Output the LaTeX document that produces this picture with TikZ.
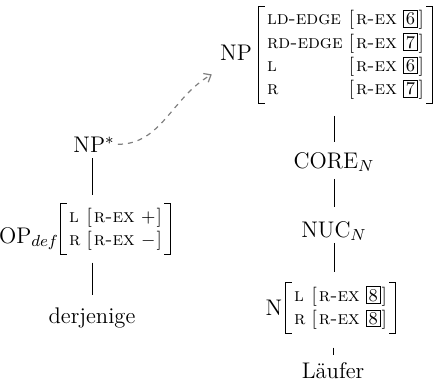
\documentclass[tikz,border=0pt]{standalone}
\usepackage{fontspec}
\usetikzlibrary{arrows.meta}
\newcommand\tagbox[1]{{\setlength\fboxsep{0.9pt}\setlength\fboxrule{0.4pt}\fbox{\fontsize{9}{9}\selectfont #1}}}
\newcommand\rexval[1]{[\kern1pt\textsc{r-ex}\ #1\kern0.5pt]}
\newcommand\avmfont{\fontsize{9.5}{11.6}\selectfont}
\newcommand\labfont{\fontsize{11.3}{13}\selectfont}
\newcommand\avmbr[1]{%
  \draw[brk] ([xshift=3pt]#1.north west) -- (#1.north west) -- (#1.south west) -- ([xshift=3pt]#1.south west);
  \draw[brk] ([xshift=-3pt]#1.north east) -- (#1.north east) -- (#1.south east) -- ([xshift=-3pt]#1.south east);}
\tikzset{
  lab/.style={inner sep=0pt, font=\labfont, anchor=base},
  avm/.style={inner xsep=4pt, inner ysep=1pt, font=\avmfont},
  brk/.style={line width=0.55pt},
  tree/.style={line width=0.5pt},
  link/.style={gray, dash pattern=on 2.5pt off 2.5pt, line width=0.6pt,
    -{Straight Barb[length=3pt,width=5pt]}}
}
\begin{document}
\begin{tikzpicture}[x=0.5pt,y=-0.5pt]
\path[use as bounding box] (0,0) rectangle (440,386);
% right tree
\node[lab] (nplab) at (236,60) {NP};
\node[avm] (npavm) at (345.5,55) {\begin{tabular}{@{}l@{\hspace{3pt}}l@{}}
\textsc{ld-edge} & \rexval{\tagbox{6}}\\
\textsc{rd-edge} & \rexval{\tagbox{7}}\\
\textsc{l} & \rexval{\tagbox{6}}\\
\textsc{r} & \rexval{\tagbox{7}}
\end{tabular}};
\avmbr{npavm}
\node[lab] (core) at (334,168) {CORE$_N$};
\node[lab] (nuc) at (334,237) {NUC$_N$};
\node[lab] (nlab) at (274,315) {N};
\node[avm] (navm) at (340.5,308) {\begin{tabular}{@{}l@{\hspace{3pt}}l@{}}
\textsc{l} & \rexval{\tagbox{8}}\\
\textsc{r} & \rexval{\tagbox{8}}
\end{tabular}};
\avmbr{navm}
\node[lab] (laufer) at (333,378) {Läufer};
% left tree
\node[lab] (npstar) at (94,152) {NP$^*$};
\node[lab] (oplab) at (29,243) {OP$_{def}$};
\node[avm] (opavm) at (115.5,229) {\begin{tabular}{@{}l@{\hspace{3pt}}l@{}}
\textsc{l} & \rexval{$+$}\\
\textsc{r} & \rexval{$-$}
\end{tabular}};
\avmbr{opavm}
\node[lab] (derj) at (92,323) {derjenige};
% connectors
\draw[tree, shorten <=3pt, shorten >=4pt] ([xshift=-1pt]npstar.south) -- ([xshift=-1pt]npstar.south |- opavm.north);
\draw[tree, shorten <=4pt, shorten >=6pt] ([xshift=-1pt]npstar.south |- opavm.south) -- ([xshift=-1pt]npstar.south |- derj.north);
\draw[tree, shorten <=6pt, shorten >=5pt] (core.north |- npavm.south) -- (core.north);
\draw[tree, shorten <=3.5pt, shorten >=7pt] (core.south) -- (nuc.north);
\draw[tree, shorten <=1pt, shorten >=5pt] (nuc.south) -- (nuc.south |- navm.north);
\draw[tree, shorten <=7pt, shorten >=3.5pt] (laufer.north |- navm.south) -- (laufer.north);
\draw[link, shorten <=1.5pt] (npstar.east) to[out=0, in=210] ([xshift=-4pt,yshift=-7pt]nplab.south west);
\end{tikzpicture}
\end{document}
